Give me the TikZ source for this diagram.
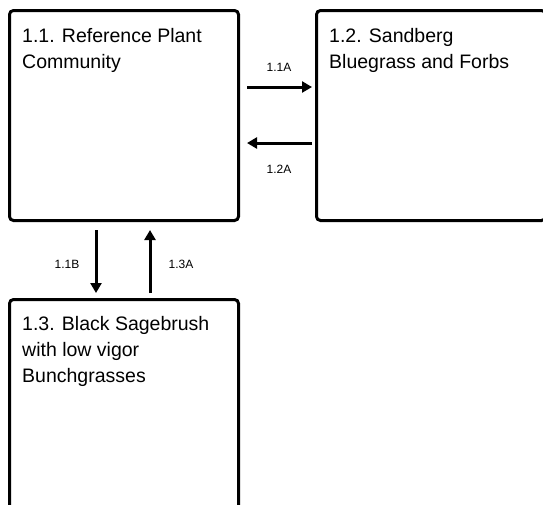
\documentclass[tikz,border=0pt]{standalone}
\usepackage{fontspec}
\setmainfont{Liberation Sans}
\usetikzlibrary{arrows.meta}
\begin{document}
\begin{tikzpicture}[x=1pt,y=1pt,
  box/.style={draw=black, line width=3pt, rounded corners=4pt, minimum width=229pt, minimum height=210pt, anchor=north west, inner sep=0pt, fill=white},
  boxtext/.style={anchor=north west, inner sep=0pt, align=left, font=\fontsize{19.5}{26}\selectfont},
  lbl/.style={inner sep=0pt, font=\fontsize{12}{14}\selectfont},
  arr/.style={line width=3pt, -{Triangle[length=10pt,width=11pt]}}]
\useasboundingbox (0,0) rectangle (543,-504);
\fill[white] (0,0) rectangle (543,-504);
\node[box] (b1) at (8,-9) {};
\node[box] (b2) at (315,-9) {};
\node[box] (b3) at (8,-298) {};
\node[boxtext] (t1) at (22,-28) {1.1. Reference Plant\\Community};
\node[boxtext] (t2) at (329,-28) {1.2. Sandberg\\Bluegrass and Forbs};
\node[boxtext] (t3) at (22,-316) {1.3. Black Sagebrush\\with low vigor\\Bunchgrasses};
\draw[arr] ([xshift=7pt,yshift=-78pt]b1.north east) -- ([xshift=-3pt,yshift=-78pt]b2.north west);
\draw[arr] ([xshift=-3pt,yshift=-134pt]b2.north west) -- ([xshift=7pt,yshift=-134pt]b1.north east);
\draw[arr] ([xshift=88pt,yshift=-8pt]b1.south west) -- ([xshift=88pt,yshift=5pt]b3.north west);
\draw[arr] ([xshift=142pt,yshift=5pt]b3.north west) -- ([xshift=142pt,yshift=-8pt]b1.south west);
\node[lbl] (l1) at (279,-67) {1.1A};
\node[lbl] (l2) at (279,-169) {1.2A};
\node[lbl] (l3) at (67,-264) {1.1B};
\node[lbl] (l4) at (181,-264) {1.3A};
\end{tikzpicture}
\end{document}
